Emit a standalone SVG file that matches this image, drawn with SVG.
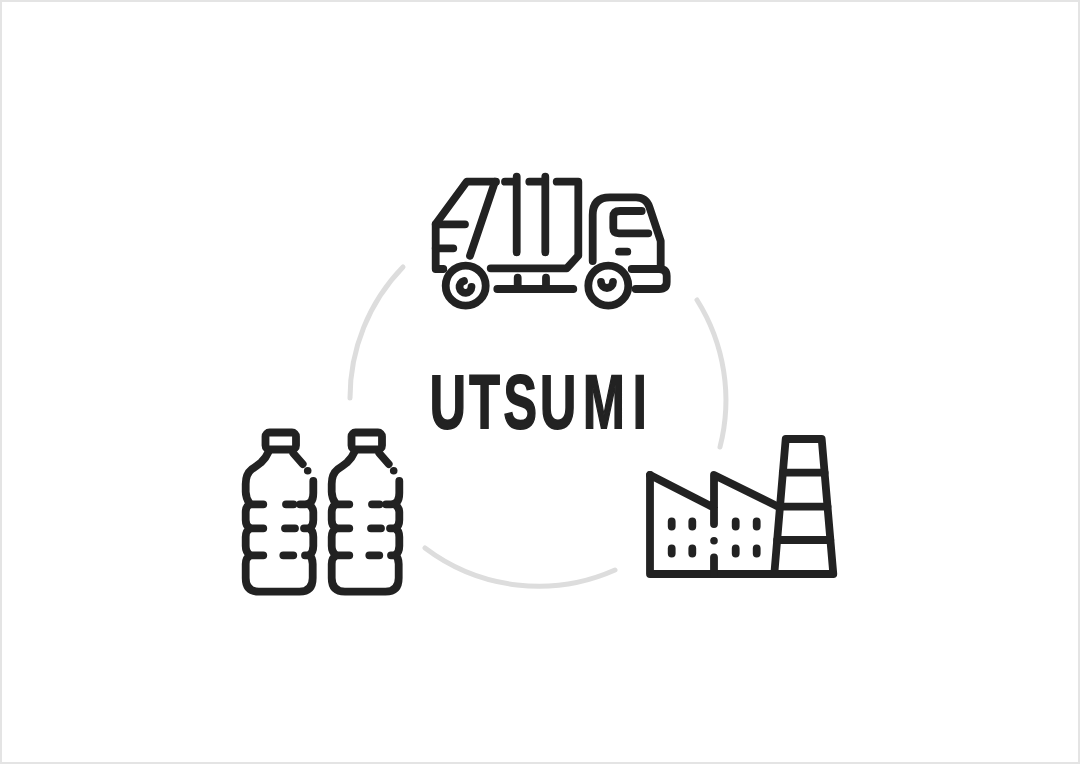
<svg xmlns="http://www.w3.org/2000/svg" width="1080" height="764" viewBox="0 0 1080 764">
<style>
.i{fill:none;stroke:#222;stroke-width:7.8;stroke-linecap:round;stroke-linejoin:round}
.d{fill:#222}
.a{fill:none;stroke:#ddd;stroke-width:5;stroke-linecap:round}
.t{font-family:"Liberation Sans",Arial,sans-serif;font-weight:700;font-size:76px;fill:#222;stroke:#222;stroke-width:1.8}
</style>
<defs>
<g id="bottle">
<rect class="i" x="265.5" y="432.5" width="30.5" height="17" rx="4"/>
<path class="i" d="M268.3 452.3Q266 458 261 462.500Q256 466.500 251.700 469.300Q245.700 474 245.700 484V491.700Q245.700 498 250 504.300Q245.700 506 245.700 512V520Q245.700 526 250 528.300Q245.700 531 245.700 537V546Q245.700 552 250 555.300Q245.700 558 245.700 564V578Q245.700 591.700 259 591.700H299.500Q312.700 591.700 312.700 578V564Q312.700 558 309.500 555.300H305"/>
<path class="i" d="M313.300 481V493Q313.300 504.300 305 504.300H300"/>
<path class="i" d="M304 528.300H309.500Q313.300 531 313.300 537V546Q313.300 552 309.500 555.300"/>
<path class="i" d="M309 504.300Q313.300 508 313.300 512V520Q313.300 526 309.500 528.300"/>
<path class="i" d="M293.300 453.300 302.700 464M250 504.300H263.300M286 504.300H293.500M250 528.300H263.300M285 528.300H295M250 555.300H263.300M283.300 555.300H293.300"/>
<circle class="d" cx="307.700" cy="470.700" r="3.800"/>
</g>
</defs>
<rect x="1" y="1" width="1078" height="762" fill="#fff" stroke="#e4e4e4" stroke-width="2"/>
<g id="connectors">
<path class="a" d="M403 267A188 188 0 0 0 350 398"/>
<path class="a" d="M697 300A188 188 0 0 1 720 447"/>
<path class="a" d="M425 548A188 188 0 0 0 615 570"/>
</g>
<g id="truck">
<path class="i" d="M496 181.700H466.700L435.700 224V269H443.300"/>
<path class="i" d="M495 181.700 470 255.700M435.700 224.300H465M435.700 248.300H453.300"/>
<path class="i" d="M505 181.700H516.700M516.700 176.700V252.300M529.300 181.700H545.300M545.300 176.700V252.300"/>
<path class="i" d="M556.700 181.700H578.300V255.700L566.700 268.300H490.700"/>
<path class="i" d="M497.300 289H573.300M517.700 277.700V289M546 277.700V289"/>
<circle class="i" cx="465.700" cy="285.700" r="20"/>
<circle class="i" cx="608.300" cy="285.700" r="20"/>
<path class="i" d="M464 281A6 6 0 1 0 471.500 287"/>
<path class="i" d="M601 282A6 6 0 1 0 613 282"/>
<path class="i" d="M592.700 261V215Q592.700 197.300 610 197.300H636Q646 197.300 649.300 206.700L660.700 241V268"/>
<path class="i" d="M631.700 269H659Q666.700 269 666.700 276V282Q666.700 289 659 289H635.700"/>
<path class="i" d="M641.700 211H620Q613.300 211 613.300 217V228Q613.300 233.300 619 233.300H648.300M619 251.700H627.300"/>
</g>
<g id="bottles">
<use href="#bottle"/>
<use href="#bottle" x="86"/>
</g>
<g id="factory">
<path class="i" d="M650 475V574H833.300L821.700 439H785.700L774.300 574"/>
<path class="i" d="M650 475 714 507.700M714 524V475L778.300 506.700M714 557.300V574M782.800 472.700H824.600M780 506.700H827.500M777.200 540H830.300"/>
<path class="i" d="M671.700 521.500V526.500M692.300 521.500V526.500M735.700 521.500V526.500M756.700 521.500V526.500M671.700 548.500V553.500M692.300 548.500V553.500M735.700 548.500V553.500M756.700 548.500V553.500"/>
<circle class="d" cx="714" cy="540.700" r="3.800"/>
</g>
<g id="label">
<text class="t" transform="translate(0 427.500) scale(.66 1)" x="651 711 763 818 883.500 958.600" y="0">UTSUMI</text>
</g>
</svg>
